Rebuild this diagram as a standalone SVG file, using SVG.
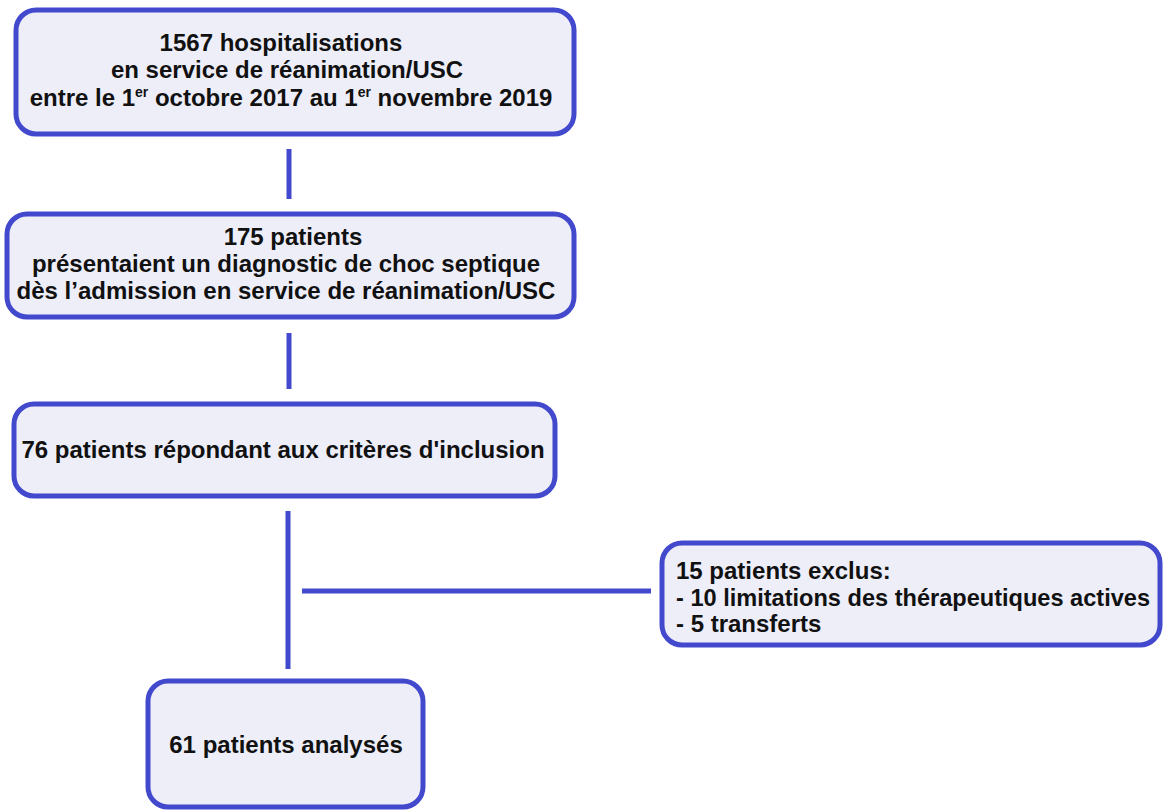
<svg xmlns="http://www.w3.org/2000/svg" width="1163" height="810" viewBox="0 0 1163 810">
<style>
.box{fill:#EEEEF9;stroke:#4349CC;stroke-width:5}
.t{font-family:"Liberation Sans",Arial,sans-serif;font-weight:bold;font-size:24px;fill:#111}
.c{text-anchor:middle}
.ln{stroke:#4349CC;stroke-width:5;fill:none}
.sup{font-size:14px}
</style>
<rect width="1163" height="810" fill="#fff"/>
<g id="connectors">
<line class="ln" x1="289" y1="149" x2="289" y2="199"/>
<line class="ln" x1="289" y1="333" x2="289" y2="389"/>
<line class="ln" x1="288" y1="511" x2="288" y2="669"/>
<line class="ln" x1="302" y1="591" x2="651" y2="591"/>
</g>
<g id="n1">
<rect class="box" x="16" y="10" width="558" height="124" rx="20"/>
<text class="t c" x="281" y="51">1567 hospitalisations</text>
<text class="t c" x="287" y="78">en service de réanimation/USC</text>
<text class="t c" x="291" y="106">entre le 1<tspan class="sup" dy="-9">er</tspan><tspan dy="9"> octobre 2017 au 1</tspan><tspan class="sup" dy="-9">er</tspan><tspan dy="9"> novembre 2019</tspan></text>
</g>
<g id="n2">
<rect class="box" x="7" y="214" width="567" height="103" rx="20"/>
<text class="t c" x="293" y="245">175 patients</text>
<text class="t c" x="286" y="272">présentaient un diagnostic de choc septique</text>
<text class="t c" x="286" y="299">dès l’admission en service de réanimation/USC</text>
</g>
<g id="n3">
<rect class="box" x="14" y="404" width="541" height="92" rx="20"/>
<text class="t c" x="283" y="458">76 patients répondant aux critères d'inclusion</text>
</g>
<g id="n4">
<rect class="box" x="662" y="543" width="498" height="102" rx="20"/>
<text class="t" x="676" y="579">15 patients exclus:</text>
<text class="t" x="676" y="606" textLength="474" lengthAdjust="spacingAndGlyphs">- 10 limitations des thérapeutiques actives</text>
<text class="t" x="676" y="632">- 5 transferts</text>
</g>
<g id="n5">
<rect class="box" x="148" y="681" width="275" height="126" rx="20"/>
<text class="t c" x="286" y="753">61 patients analysés</text>
</g>
</svg>
